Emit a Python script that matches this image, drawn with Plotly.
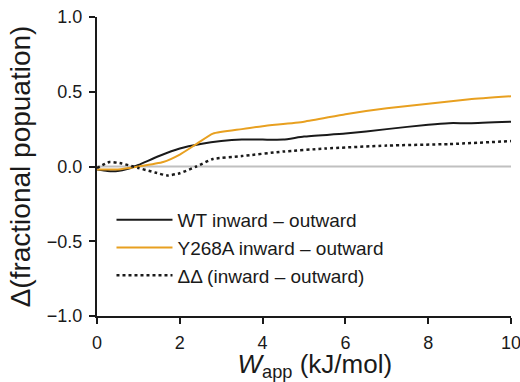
import plotly.graph_objects as go

# data
wt_x = [0, 0.25, 0.5, 0.75, 1.0, 1.5, 2.0, 2.5, 3.0, 3.5, 4.0, 4.5, 5.0, 6.0, 7.0, 8.0, 8.5, 9.0, 10.0]
wt_y = [-0.02, -0.03, -0.03, -0.015, 0.01, 0.07, 0.12, 0.15, 0.17, 0.18, 0.18, 0.18, 0.2, 0.22, 0.25, 0.28, 0.29, 0.29, 0.30]

y268a_x = [0, 0.5, 1.0, 1.6, 2.0, 2.4, 2.8, 3.5, 4.0, 5.0, 6.0, 7.0, 8.0, 9.0, 10.0]
y268a_y = [-0.02, -0.02, 0.0, 0.03, 0.08, 0.15, 0.22, 0.25, 0.27, 0.30, 0.35, 0.39, 0.42, 0.45, 0.47]

dd_x = [0, 0.3, 0.6, 1.0, 1.4, 1.7, 2.0, 2.4, 2.8, 3.5, 4.5, 5.5, 7.0, 8.5, 10.0]
dd_y = [-0.01, 0.03, 0.02, -0.01, -0.04, -0.06, -0.045, 0.0, 0.05, 0.07, 0.10, 0.12, 0.14, 0.15, 0.17]

baseline_x = [0, 10]
baseline_y = [0, 0]

x_ticks = [0, 2, 4, 6, 8, 10]
y_ticks = [-1.0, -0.5, 0.0, 0.5, 1.0]
y_tick_labels = ["\u22121.0", "\u22120.5", "0.0", "0.5", "1.0"]

fig = go.Figure()
fig.add_trace(go.Scatter(x=baseline_x, y=baseline_y, mode="lines",
                         line=dict(color="#c0c0c0", width=2), showlegend=False, hoverinfo="skip"))
fig.add_trace(go.Scatter(x=wt_x, y=wt_y, mode="lines", name="WT inward \u2013 outward",
                         line=dict(color="#1a1a1a", width=2, shape="spline", smoothing=0.5)))
fig.add_trace(go.Scatter(x=y268a_x, y=y268a_y, mode="lines", name="Y268A inward \u2013 outward",
                         line=dict(color="#e8a020", width=2, shape="spline", smoothing=0.5)))
fig.add_trace(go.Scatter(x=dd_x, y=dd_y, mode="lines", name="\u0394\u0394 (inward \u2013 outward)",
                         line=dict(color="#1a1a1a", width=2.5, dash="dot", shape="spline", smoothing=0.5)))

font_family = "Liberation Sans, Arial, sans-serif"

fig.update_layout(
    width=520, height=382,
    margin=dict(l=97, r=9, t=17, b=66, autoexpand=False),
    paper_bgcolor="white", plot_bgcolor="white",
    font=dict(family=font_family, color="#1a1a1a", size=18),
    legend=dict(x=0.035, y=0.385, xanchor="left", yanchor="top", itemwidth=56,
                bgcolor="rgba(0,0,0,0)", font=dict(size=19), tracegroupgap=0),
    xaxis=dict(range=[0, 10], tickvals=x_ticks, showgrid=False, zeroline=False,
               showline=True, linecolor="#1a1a1a", linewidth=2,
               ticks="outside", ticklen=6, tickwidth=2, tickcolor="#1a1a1a",
               tickfont=dict(size=18), ticklabelstandoff=3, ticklabeloverflow="allow",
               automargin=True,
               title=dict(text="&nbsp;&nbsp;&nbsp;<i>W</i><sub>app</sub> (kJ/mol)",
                          font=dict(size=26), standoff=4)),
    yaxis=dict(range=[-1.0, 1.0], tickvals=y_ticks, ticktext=y_tick_labels,
               showgrid=False, zeroline=False,
               showline=True, linecolor="#1a1a1a", linewidth=2,
               ticks="outside", ticklen=6, tickwidth=2, tickcolor="#1a1a1a",
               tickfont=dict(size=18), ticklabelstandoff=3, ticklabeloverflow="allow",
               automargin=False,
               title=dict(text="\u0394(fractional popuation)", font=dict(size=28), standoff=8)),
)

fig.write_html("out.html", config={"displayModeBar": False},
               post_script="document.body.style.margin='0';")
